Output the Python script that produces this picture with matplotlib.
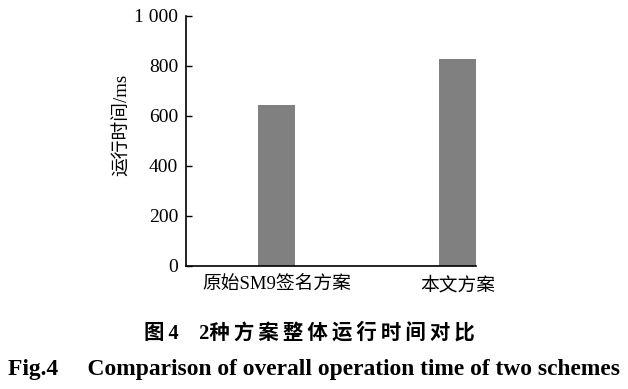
import matplotlib
matplotlib.use("Agg")
import matplotlib.pyplot as plt

plt.rcParams["font.family"] = ["Liberation Serif", "Noto Sans CJK SC"]

# data
schemes = ["原始SM9签名方案", "本文方案"]
run_time_ms = [646, 827]
y_ticks = [0, 200, 400, 600, 800, 1000]
y_tick_labels = ["0", "200", "400", "600", "800", "1 000"]

fig = plt.figure(figsize=(6.28, 3.89), dpi=100)
ax = fig.add_axes([186 / 628, 1 - 266 / 389, 290 / 628, 250 / 389])

ax.bar(range(len(schemes)), run_time_ms, width=0.205, color="#808080")
ax.set_xlim(-0.5, 1.1)
ax.set_ylim(0, 1000)
ax.set_yticks(y_ticks)
ax.set_yticklabels(y_tick_labels, fontsize=14)
ax.set_xticks(range(len(schemes)))
ax.set_xticklabels(schemes, fontsize=13.5)
ax.tick_params(axis="y", direction="in", length=4, width=1, pad=5.5)
ax.tick_params(axis="x", length=0, pad=8)
ax.spines["top"].set_visible(False)
ax.spines["right"].set_visible(False)
for s in ("left", "bottom"):
	ax.spines[s].set_linewidth(1.2)
ax.set_ylabel("运行时间/ms", fontsize=13.5)
ax.yaxis.set_label_coords(-0.19, 0.564)

# captions (thin spaces for the wide tracking of the original)
cap_cn = "\u2009".join("种方案整体运行时间对比")
fig.text(0.493, 1 - 333 / 389, "图\u20094    2" + cap_cn, ha="center", va="center",
		 fontsize=14.7, fontweight="bold")
fig.text(0.5, 1 - 370 / 389, "Fig.4     Comparison of overall operation time of two schemes",
		 ha="center", va="center", fontsize=16.9, fontweight="bold")

fig.savefig("out.png", dpi=100)
